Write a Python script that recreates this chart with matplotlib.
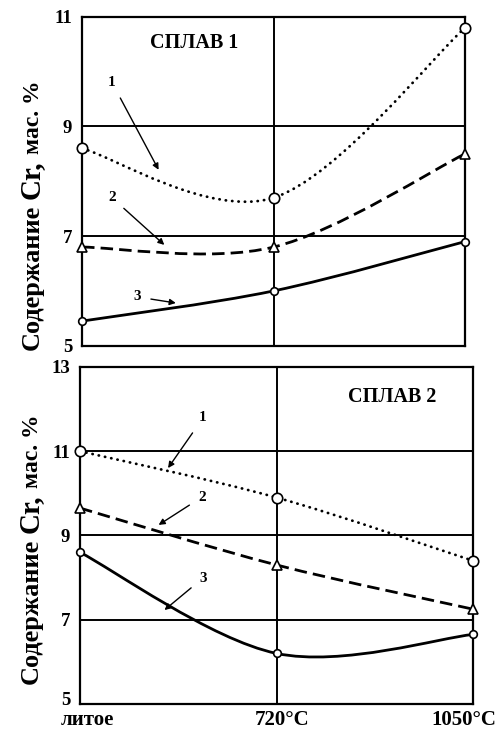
import matplotlib
matplotlib.use("Agg")
import matplotlib.pyplot as plt
from matplotlib.path import Path
from matplotlib.patches import PathPatch
from matplotlib.transforms import ScaledTranslation

plt.rcParams['font.family'] = ['Liberation Serif', 'DejaVu Serif']

# x categories: as-cast, 720 C, 1050 C
x_labels = ['литое', '720°C', '1050°C']
x_pos = [0, 1, 2]

# alloy 1 (Cr, wt.%)
a1_c1 = [8.6, 7.7, 10.8]
a1_c2 = [6.8, 6.8, 8.5]
a1_c3 = [5.45, 6.0, 6.9]

# alloy 2
a2_c1 = [11.0, 9.9, 8.4]
a2_c2 = [9.65, 8.3, 7.25]
a2_c3 = [8.6, 6.2, 6.65]

W, H = 500, 731
fig = plt.figure(figsize=(W / 100, H / 100), dpi=100)
ax1 = fig.add_axes([0.164, 0.527, 0.766, 0.45])
ax2 = fig.add_axes([0.16, 0.037, 0.786, 0.461])
rend = fig.canvas.get_renderer()


def smooth_path(x, y):
    # excel-like smoothed line: catmull-rom tangents as cubic bezier segments
    pts = list(zip(x, y))
    n = len(pts)
    verts = [pts[0]]
    codes = [Path.MOVETO]
    for i in range(n - 1):
        p0 = pts[max(i - 1, 0)]
        p1 = pts[i]
        p2 = pts[i + 1]
        p3 = pts[min(i + 2, n - 1)]
        c1 = (p1[0] + (p2[0] - p0[0]) / 6, p1[1] + (p2[1] - p0[1]) / 6)
        c2 = (p2[0] - (p3[0] - p1[0]) / 6, p2[1] - (p3[1] - p1[1]) / 6)
        verts += [c1, c2, p2]
        codes += [Path.CURVE4] * 3
    return Path(verts, codes)


def curve(ax, y, ls, marker, ms, lw=2.0):
    patch = PathPatch(smooth_path(x_pos, y), fill=False, edgecolor='black', lw=lw,
                      ls=ls, clip_on=False, zorder=3)
    if ls != '-':
        patch.set_capstyle('round' if ls[1][0] < 1 else 'butt')
    ax.add_patch(patch)
    ax.plot(x_pos, y, ls='none', marker=marker, ms=ms, mfc='white', mec='black',
            mew=1.2, clip_on=False, zorder=4)


def setup(ax, ymin, ymax, yt):
    ax.set_xlim(0, 2)
    ax.set_ylim(ymin, ymax)
    ax.set_yticks(yt)
    ax.set_yticklabels([str(t) for t in yt], fontsize=13.5, fontweight='bold')
    ax.tick_params(length=0, pad=7)
    for t in yt[1:-1]:
        ax.axhline(t, color='black', lw=1.4, zorder=1)
    ax.axvline(1, color='black', lw=1.4, zorder=1)
    for s in ax.spines.values():
        s.set_linewidth(1.6)


def ylabel(y_start_px, x_base_px):
    # mixed-size label, chained from the bottom up
    pieces = [('Содержание', 19, 'bold', 6), ('Cr,', 21, 'bold', 6), ('мас. %', 17, 'bold', 0)]
    x = x_base_px / W
    y = 1 - y_start_px / H
    for s, size, weight, gap in pieces:
        t = fig.text(x, y, s, rotation=90, rotation_mode='anchor', ha='left',
                     va='baseline', fontsize=size, fontweight=weight)
        y += (t.get_window_extent(rend).height + gap) / H


dotted = (0, (0.1, 2.2))
dashed = (0, (4.5, 2.2))
kw = dict(fontsize=11, fontweight='bold', ha='center', va='center',
          arrowprops=dict(arrowstyle='-|>', color='black', lw=1.0, mutation_scale=9,
                          shrinkA=5, shrinkB=0))

# top panel
setup(ax1, 5, 11, [5, 7, 9, 11])
ax1.set_xticks(x_pos)
ax1.set_xticklabels([])
curve(ax1, a1_c1, dotted, 'o', 7.5)
curve(ax1, a1_c2, dashed, '^', 7.5)
curve(ax1, a1_c3, '-', 'o', 5.5)
ax1.text(0.585, 10.53, 'СПЛАВ 1', fontsize=14.5, fontweight='bold', ha='center', va='center')
ax1.annotate('1', xy=(0.40, 8.21), xytext=(0.157, 9.8), **kw)
ax1.annotate('2', xy=(0.43, 6.84), xytext=(0.157, 7.7), **kw)
ax1.annotate('3', xy=(0.49, 5.78), xytext=(0.29, 5.89), **kw)
ylabel(350, 39)

# bottom panel
setup(ax2, 5, 13, [5, 7, 9, 11, 13])
ax2.set_xticks(x_pos)
ax2.set_xticklabels(x_labels, fontsize=15, fontweight='bold')
ax2.tick_params(axis='x', pad=4)
for lbl, dx in zip(ax2.get_xticklabels(), [7, 6, -9]):
    lbl.set_transform(lbl.get_transform() + ScaledTranslation(dx / 100, 0, fig.dpi_scale_trans))
lab5 = ax2.get_yticklabels()[0]
lab5.set_transform(lab5.get_transform() + ScaledTranslation(0, 5 / 100, fig.dpi_scale_trans))
curve(ax2, a2_c1, dotted, 'o', 7.5)
curve(ax2, a2_c2, dashed, '^', 7.5)
curve(ax2, a2_c3, '-', 'o', 5.5)
ax2.text(1.59, 12.29, 'СПЛАВ 2', fontsize=14.5, fontweight='bold', ha='center', va='center')
ax2.annotate('1', xy=(0.448, 10.6), xytext=(0.626, 11.79), **kw)
ax2.annotate('2', xy=(0.40, 9.25), xytext=(0.62, 9.91), **kw)
ax2.annotate('3', xy=(0.43, 7.23), xytext=(0.626, 7.99), **kw)
ylabel(684, 38)

fig.savefig('out.png', dpi=100)
